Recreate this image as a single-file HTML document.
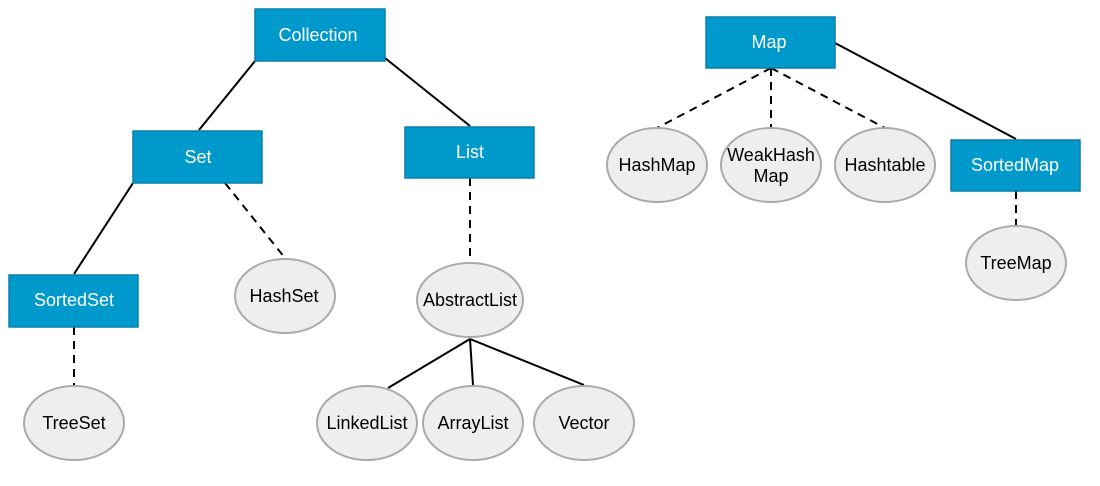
<!DOCTYPE html>
<html><head><style>body{margin:0;background:#fff}</style></head><body>
<svg width="1100" height="481" xmlns="http://www.w3.org/2000/svg" font-family="Liberation Sans, sans-serif" font-size="18">
<g stroke="#000" stroke-width="2" fill="none">
<line x1="255" y1="61" x2="199" y2="130"/>
<line x1="385" y1="58" x2="470" y2="126"/>
<line x1="133" y1="183" x2="74" y2="274"/>
<line x1="225" y1="183" x2="285" y2="258" stroke-dasharray="8,6"/>
<line x1="74" y1="327" x2="74" y2="385" stroke-dasharray="8,6"/>
<line x1="470" y1="178" x2="470" y2="263" stroke-dasharray="8,6"/>
<line x1="470" y1="339" x2="388" y2="388"/>
<line x1="470" y1="339" x2="473" y2="385"/>
<line x1="470" y1="339" x2="584" y2="385"/>
<line x1="771" y1="68" x2="657" y2="128" stroke-dasharray="8,6"/>
<line x1="771" y1="68" x2="771" y2="128" stroke-dasharray="8,6"/>
<line x1="771" y1="68" x2="885" y2="128" stroke-dasharray="8,6"/>
<line x1="835" y1="43" x2="1016" y2="139"/>
<line x1="1016" y1="191" x2="1016" y2="226" stroke-dasharray="8,6"/>
</g>
<g fill="#0099cc" stroke="#0b7fa8" stroke-width="1.5">
<rect x="255" y="9" width="130" height="52"/>
<rect x="133" y="131" width="129" height="52"/>
<rect x="405" y="127" width="129" height="51"/>
<rect x="9" y="275" width="129" height="52"/>
<rect x="706" y="17" width="129" height="51"/>
<rect x="951" y="140" width="129" height="51"/>
</g>
<g fill="#fff" text-anchor="middle">
<text x="318" y="41">Collection</text>
<text x="198" y="163">Set</text>
<text x="470" y="158">List</text>
<text x="74" y="306">SortedSet</text>
<text x="769" y="48">Map</text>
<text x="1015" y="171">SortedMap</text>
</g>
<g fill="#eeeeee" stroke="#aaa" stroke-width="2">
<ellipse cx="285" cy="296" rx="50" ry="37"/>
<ellipse cx="74" cy="423" rx="50" ry="37"/>
<ellipse cx="470" cy="300" rx="53" ry="37"/>
<ellipse cx="367" cy="423" rx="50" ry="37"/>
<ellipse cx="473" cy="423" rx="50" ry="37"/>
<ellipse cx="584" cy="423" rx="50" ry="37"/>
<ellipse cx="657" cy="165" rx="50" ry="37"/>
<ellipse cx="771" cy="165" rx="50" ry="37"/>
<ellipse cx="885" cy="165" rx="50" ry="37"/>
<ellipse cx="1016" cy="263" rx="50" ry="37"/>
</g>
<g fill="#000" text-anchor="middle">
<text x="284" y="302">HashSet</text>
<text x="74" y="429">TreeSet</text>
<text x="470" y="306">AbstractList</text>
<text x="367" y="429">LinkedList</text>
<text x="473" y="429">ArrayList</text>
<text x="584" y="429">Vector</text>
<text x="657" y="171">HashMap</text>
<text x="771" y="161">WeakHash</text>
<text x="771" y="182">Map</text>
<text x="885" y="171">Hashtable</text>
<text x="1016" y="269">TreeMap</text>
</g>
</svg>
</body></html>
